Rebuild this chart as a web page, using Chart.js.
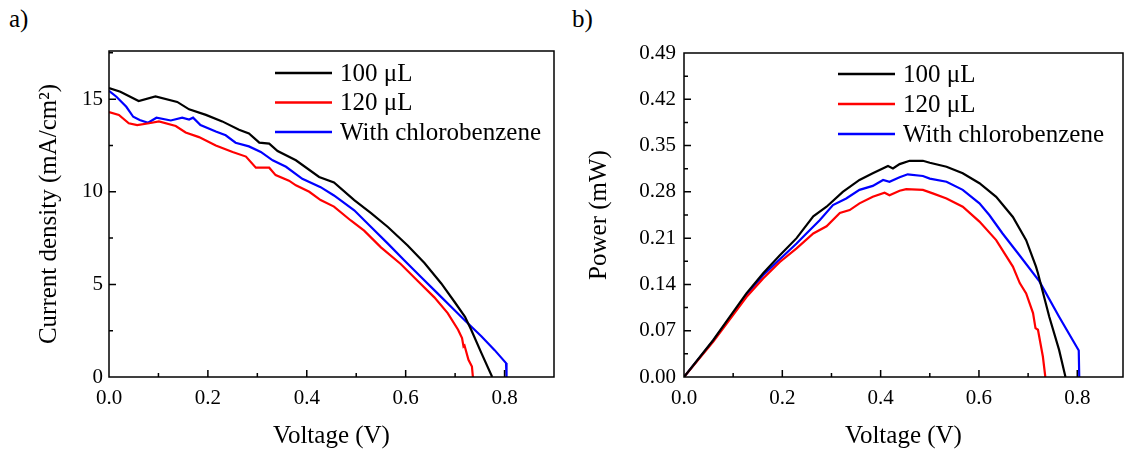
<!DOCTYPE html>
<html><head><meta charset="utf-8">
<script src="https://cdn.jsdelivr.net/npm/chart.js@4.4.0/dist/chart.umd.min.js"></script>
<style>
html,body{margin:0;padding:0;background:#fff;width:1124px;height:450px;overflow:hidden;}
.panel{position:absolute;top:0;width:562px;height:450px;}
.lbl{position:absolute;font-family:"Liberation Serif",serif;font-size:25px;line-height:25px;color:#000;}
</style></head><body>
<div class="lbl" style="left:9px;top:6px">a)</div>
<div class="lbl" style="left:572px;top:6px">b)</div>
<div class="panel" style="left:0"><canvas id="c1" width="562" height="450"></canvas></div>
<div class="panel" style="left:562px"><canvas id="c2" width="562" height="450"></canvas></div>
<script>
// ---------- DATA ----------
const seriesLabels = ['100 \u03bcL', '120 \u03bcL', 'With chlorobenzene'];
const seriesColors = ['#000000', '#ff0000', '#0000ff'];

// (a) J-V curves
const v100 = [0, 0.023, 0.06, 0.094, 0.138, 0.162, 0.196, 0.229, 0.263, 0.283, 0.304, 0.324, 0.341, 0.378, 0.425, 0.455, 0.496, 0.53, 0.564, 0.604, 0.638, 0.672, 0.699, 0.72, 0.7325, 0.753, 0.775];
const j100 = [15.6, 15.4, 14.9, 15.15, 14.85, 14.45, 14.15, 13.8, 13.35, 13.15, 12.65, 12.6, 12.2, 11.7, 10.8, 10.5, 9.55, 8.85, 8.1, 7.1, 6.15, 5.05, 4.05, 3.25, 2.55, 1.3, 0];

const v120 = [0, 0.02, 0.04, 0.057, 0.081, 0.101, 0.135, 0.155, 0.182, 0.216, 0.25, 0.277, 0.297, 0.324, 0.337, 0.364, 0.378, 0.405, 0.428, 0.455, 0.489, 0.516, 0.55, 0.59, 0.624, 0.658, 0.685, 0.706, 0.714, 0.717, 0.719, 0.727, 0.734, 0.736];
const j120 = [14.3, 14.15, 13.7, 13.6, 13.7, 13.8, 13.55, 13.2, 12.95, 12.5, 12.15, 11.9, 11.3, 11.3, 10.9, 10.6, 10.35, 10.0, 9.55, 9.2, 8.45, 7.9, 7.0, 6.1, 5.2, 4.3, 3.45, 2.55, 2.1, 1.65, 1.7, 0.93, 0.57, 0];

const vCB = [0, 0.015, 0.035, 0.049, 0.062, 0.079, 0.096, 0.125, 0.148, 0.162, 0.17, 0.185, 0.216, 0.236, 0.256, 0.283, 0.307, 0.331, 0.358, 0.391, 0.428, 0.455, 0.496, 0.53, 0.564, 0.597, 0.631, 0.665, 0.699, 0.722, 0.753, 0.78, 0.803, 0.804];
const jCB = [15.45, 15.13, 14.59, 14.05, 13.87, 13.73, 14.0, 13.85, 14.0, 13.9, 14.0, 13.6, 13.25, 13.05, 12.65, 12.45, 12.15, 11.7, 11.35, 10.7, 10.25, 9.8, 9.0, 8.1, 7.2, 6.3, 5.4, 4.5, 3.6, 3.0, 2.2, 1.45, 0.75, 0];

// (b) P-V curves
const pv100 = [0, 0.0596, 0.093, 0.127, 0.161, 0.195, 0.229, 0.263, 0.29, 0.323, 0.357, 0.384, 0.415, 0.425, 0.4386, 0.459, 0.486, 0.5, 0.534, 0.567, 0.601, 0.635, 0.669, 0.696, 0.716, 0.72, 0.743, 0.763, 0.776];
const p100 = [0, 0.056, 0.091, 0.1265, 0.157, 0.184, 0.21, 0.243, 0.2575, 0.28, 0.298, 0.308, 0.319, 0.3155, 0.322, 0.327, 0.327, 0.324, 0.318, 0.308, 0.293, 0.2725, 0.242, 0.207, 0.167, 0.157, 0.091, 0.041, 0];

const pv120 = [0, 0.0596, 0.127, 0.161, 0.195, 0.229, 0.263, 0.29, 0.317, 0.337, 0.357, 0.384, 0.408, 0.418, 0.4386, 0.452, 0.486, 0.506, 0.534, 0.567, 0.601, 0.635, 0.669, 0.683, 0.696, 0.71, 0.715, 0.72, 0.73, 0.735];
const p120 = [0, 0.0534, 0.121, 0.149, 0.174, 0.1945, 0.217, 0.228, 0.248, 0.2525, 0.2626, 0.2726, 0.2787, 0.275, 0.2817, 0.284, 0.283, 0.2777, 0.27, 0.2575, 0.235, 0.207, 0.167, 0.142, 0.1265, 0.0967, 0.074, 0.0715, 0.031, 0];

const pvCB = [0, 0.0596, 0.127, 0.161, 0.195, 0.229, 0.249, 0.276, 0.303, 0.33, 0.357, 0.384, 0.405, 0.418, 0.4386, 0.455, 0.486, 0.5, 0.534, 0.567, 0.601, 0.621, 0.648, 0.682, 0.723, 0.763, 0.803, 0.804];
const pCB = [0, 0.055, 0.124, 0.154, 0.178, 0.202, 0.217, 0.237, 0.26, 0.27, 0.283, 0.289, 0.298, 0.2953, 0.302, 0.3065, 0.304, 0.3, 0.2953, 0.283, 0.2626, 0.245, 0.217, 0.1845, 0.1445, 0.091, 0.04, 0];

// tick labels
const xTickValues = [0, 0.2, 0.4, 0.6, 0.8];
const jTickValues = [0, 5, 10, 15];
const pTickValues = [0, 0.07, 0.14, 0.21, 0.28, 0.35, 0.42, 0.49];

// ---------- HELPERS ----------
const zip = (xs, ys) => xs.map((x, i) => ({x: x, y: ys[i]}));
const FONT = '"Liberation Serif", "Times New Roman", serif';

const frameTicks = {
  id: 'frameTicks',
  afterDraw(chart, args, o) {
    const {ctx, chartArea: a, scales} = chart;
    ctx.save();
    ctx.strokeStyle = '#000';
    ctx.lineWidth = 1.5;
    ctx.strokeRect(a.left, a.top, a.right - a.left, a.bottom - a.top);
    ctx.beginPath();
    const xs = scales.x, ys = scales.y;
    let n = Math.round(xs.max / o.xMinor) + 1;
    for (let i = 1; i < n; i++) {
      const v = i * o.xMinor;
      if (v > xs.max - 1e-9) break;
      const px = xs.getPixelForValue(v);
      const len = (i % o.xRatio === 0) ? 7 : 4;
      ctx.moveTo(px, a.bottom);
      ctx.lineTo(px, a.bottom - len);
    }
    n = Math.round(ys.max / o.yMinor) + 1;
    for (let i = 1; i < n; i++) {
      const v = i * o.yMinor;
      if (v > ys.max - 1e-9) break;
      const py = ys.getPixelForValue(v);
      const len = (i % o.yRatio === 0) ? 7 : 4;
      ctx.moveTo(a.left, py);
      ctx.lineTo(a.left + len, py);
    }
    ctx.stroke();
    ctx.restore();
  }
};

const boxLegend = {
  id: 'boxLegend',
  afterDraw(chart, args, o) {
    const ctx = chart.ctx;
    ctx.save();
    ctx.font = o.fontSize + 'px ' + FONT;
    ctx.textBaseline = 'middle';
    ctx.textAlign = 'left';
    chart.data.datasets.forEach((ds, i) => {
      const y = o.y + i * o.dy;
      ctx.strokeStyle = ds.borderColor;
      ctx.lineWidth = 2.5;
      ctx.beginPath();
      ctx.moveTo(o.x, y);
      ctx.lineTo(o.x + o.len, y);
      ctx.stroke();
      ctx.fillStyle = '#000';
      ctx.fillText(ds.label, o.x + o.len + o.gap, y + 1);
    });
    ctx.restore();
  }
};

function makeChart(id, sets, cfg) {
  return new Chart(document.getElementById(id), {
    type: 'scatter',
    data: {
      datasets: sets.map((d, i) => ({
        label: seriesLabels[i],
        data: d,
        showLine: true,
        borderColor: seriesColors[i],
        backgroundColor: seriesColors[i],
        borderWidth: 2.2,
        pointRadius: 0,
        tension: 0
      }))
    },
    options: {
      responsive: false,
      animation: false,
      devicePixelRatio: 1,
      layout: {padding: {top: cfg.top, right: cfg.right, left: 0, bottom: 0}},
      plugins: {
        legend: {display: false},
        tooltip: {enabled: false},
        frameTicks: cfg.ticks,
        boxLegend: cfg.legend
      },
      scales: {
        x: {
          type: 'linear', min: 0, max: cfg.xMax,
          grid: {display: false, drawTicks: false},
          border: {display: false},
          afterBuildTicks: s => { s.ticks = xTickValues.map(v => ({value: v})); },
          afterFit: s => { s.height = 73; },
          ticks: {color: '#000', font: {family: FONT, size: 21}, padding: 9, maxRotation: 0,
                  callback: v => Number(v).toFixed(1)},
          title: {display: true, text: 'Voltage (V)', color: '#000', font: {family: FONT, size: 25, lineHeight: 1},
                  padding: {top: 0, bottom: 1}}
        },
        y: {
          type: 'linear', min: 0, max: cfg.yMax,
          grid: {display: false, drawTicks: false},
          border: {display: false},
          afterBuildTicks: s => { s.ticks = cfg.yTicks.map(v => ({value: v})); },
          afterFit: s => { s.width = cfg.yWidth; },
          ticks: {color: '#000', font: {family: FONT, size: 21}, padding: cfg.yPad,
                  callback: cfg.yFmt},
          title: {display: true, text: cfg.yTitle, color: '#000', font: {family: FONT, size: 25, lineHeight: 1},
                  padding: {top: cfg.yTitlePad, bottom: 0}}
        }
      }
    },
    plugins: [frameTicks, boxLegend]
  });
}

makeChart('c1', [zip(v100, j100), zip(v120, j120), zip(vCB, jCB)], {
  top: 51, right: 8, xMax: 0.9, yMax: 17.6, yTicks: jTickValues, yWidth: 109, yPad: 6,
  yFmt: v => String(v), yTitle: 'Current density (mA/cm\u00b2)', yTitlePad: 37,
  ticks: {xMinor: 0.1, xRatio: 2, yMinor: 2.5, yRatio: 2},
  legend: {x: 275, y: 73, dy: 29.5, len: 57, gap: 8, fontSize: 25}
});

makeChart('c2', [zip(pv100, p100), zip(pv120, p120), zip(pvCB, pCB)], {
  top: 53, right: 1, xMax: 0.893, yMax: 0.49, yTicks: pTickValues, yWidth: 122, yPad: 8,
  yFmt: v => Number(v).toFixed(2), yTitle: 'Power (mW)', yTitlePad: 25,
  ticks: {xMinor: 0.1, xRatio: 2, yMinor: 0.035, yRatio: 2},
  legend: {x: 276, y: 74, dy: 30, len: 57, gap: 8, fontSize: 25}
});
</script>
</body></html>
